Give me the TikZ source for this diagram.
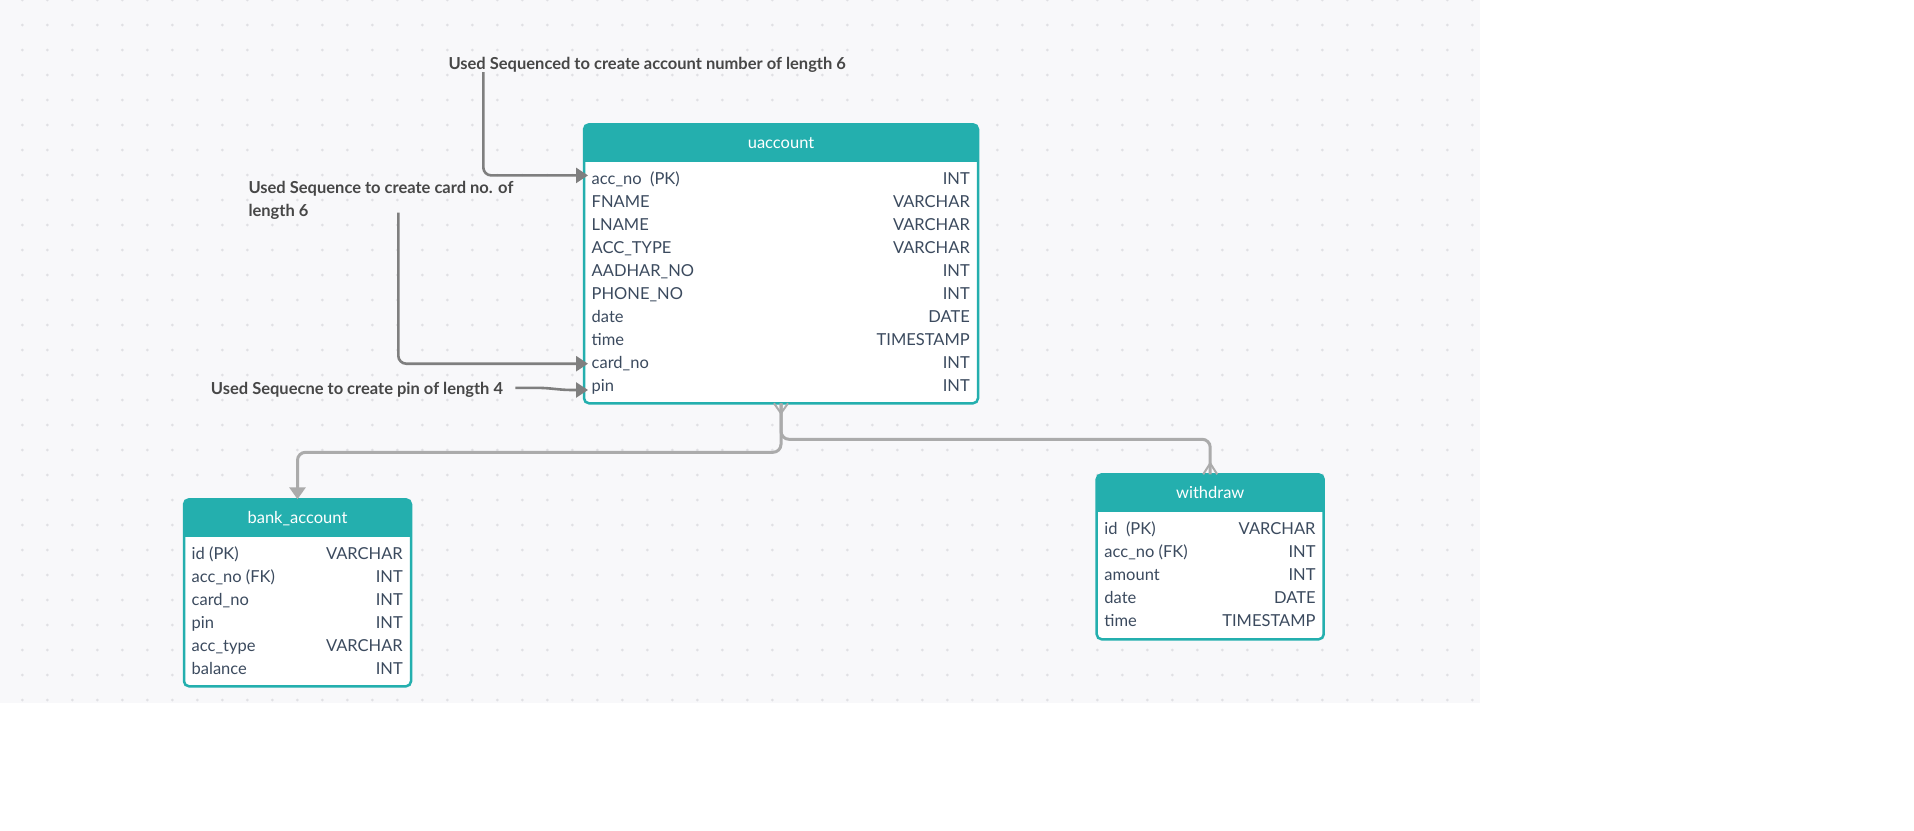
\documentclass[tikz,border=0pt]{standalone}
\usepackage{fontspec}
\setmainfont{Lato}
\usepackage{xcolor}
\usepackage{tikz}
\usetikzlibrary{arrows.meta,calc,positioning}

\definecolor{erteal}{HTML}{24AFAE}
\definecolor{fldtext}{HTML}{3B4A5E}
\definecolor{notetext}{HTML}{474747}
\definecolor{arrgray}{HTML}{7F7F7F}
\definecolor{relgray}{HTML}{ABABAB}
\definecolor{canvas}{HTML}{F8F8FA}
\definecolor{dotgray}{HTML}{E0E0E4}

\begin{document}
\begin{tikzpicture}[x=1pt,y=-1pt,font=\fontsize{16.5}{23}\selectfont]
 \tikzset{tbl/.style={draw=erteal,fill=white,line width=2.5pt,rounded corners=5pt,inner sep=0,outer sep=0,anchor=north west},
          hd/.style={text=white,anchor=base},
          fld/.style={text=fldtext,inner xsep=3.5pt,inner ysep=0},
          note/.style={text=notetext,font=\bfseries\fontsize{16.5}{23}\selectfont,inner sep=0,align=left},
          arr/.style={-{Triangle[length=12pt,width=15pt]},draw=arrgray,line width=2.6pt,rounded corners=8pt},
          rel/.style={draw=relgray,line width=3pt,rounded corners=8pt}}
 \useasboundingbox (0,0) rectangle (1914,830);
 % dotted canvas
 \fill[white] (0,0) rectangle (1914,830);
 \fill[canvas] (0,0) rectangle (1480,703);
 \foreach \x in {0,...,58}
  \foreach \y in {0,...,28}
   \fill[dotgray] (22.3+25*\x,25*\y) circle (1.5);
 % tables
 \node[tbl,minimum width=394,minimum height=279] (ua) at (584,124.3) {};
 \node[tbl,minimum width=227,minimum height=187] (bank) at (184,499.3) {};
 \node[tbl,minimum width=227,minimum height=165] (wd) at (1096.7,474.3) {};
 \foreach \tb in {ua,bank,wd}{
  \begin{scope}
   \clip[rounded corners=5pt] (\tb.north west) rectangle (\tb.south east);
   \fill[erteal] (\tb.north west) rectangle ([yshift=-37.5pt]\tb.north east);
  \end{scope}}
 \node[hd] (uah) at ($(ua.north)+(0,24)$) {uaccount};
 \node[hd] (bankh) at ($(bank.north)+(0,24)$) {bank\_account};
 \node[hd] (wdh) at ($(wd.north)+(0,24)$) {withdraw};
 \foreach \nm/\ty [count=\i] in {acc\_no\ \ (PK)/INT\hspace{7pt},FNAME/VARCHAR,LNAME/VARCHAR,ACC\_TYPE/VARCHAR,AADHAR\_NO/INT,PHONE\_NO/INT,date/DATE,time/TIMESTAMP,card\_no/INT,pin/INT}{
  \node[fld,anchor=base west] (ua\i) at ($(ua.north west)+(4,37.3+23*\i)$) {\nm};
  \node[fld,anchor=base east] (uat\i) at ($(ua.north east)+(-4.5,37.3+23*\i)$) {\ty};}
 \foreach \nm/\ty [count=\i] in {id (PK)/VARCHAR,acc\_no (FK)/INT,card\_no/INT,pin/INT,acc\_type/VARCHAR,balance/INT}{
  \node[fld,anchor=base west] (bank\i) at ($(bank.north west)+(4,37+23*\i)$) {\nm};
  \node[fld,anchor=base east] (bankt\i) at ($(bank.north east)+(-4.5,37+23*\i)$) {\ty};}
 \foreach \nm/\ty [count=\i] in {id\ \ (PK)/VARCHAR,acc\_no (FK)/INT,amount/INT,date/DATE,time/TIMESTAMP}{
  \node[fld,anchor=base west] (wd\i) at ($(wd.north west)+(4,37+23*\i)$) {\nm};
  \node[fld,anchor=base east] (wdt\i) at ($(wd.north east)+(-4.5,37+23*\i)$) {\ty};}
 % sequence notes
 \node[note,anchor=base west] (n1) at (448.3,69) {Used Sequenced to create account number of length 6};
 \node[note,anchor=north west] (n2) at (248.3,181) {Used Sequence to create card no. of\\length 6};
 \node[note,anchor=base west] (n3) at (210.7,394) {Used Sequecne to create pin of length 4};
 \draw[arr] ([xshift=35pt]n1.south west) |- ([yshift=4pt]ua1.west);
 \draw[arr] ([xshift=150pt,yshift=7pt]n2.south west) |- (ua9.west);
 \draw[arr,sharp corners] ([xshift=12pt,yshift=1.5pt]n3.east) -- ++(22,0) to[out=0,in=180] ([xshift=-16pt,yshift=-3pt]ua10.west) -- ([yshift=-3pt]ua10.west);
 % relations
 \draw[rel,-{Triangle[length=12pt,width=16pt]}] (ua.south) -- ++(0,49) -| (bank.north);
 \draw[rel] (ua.south) -- ++(0,36) -| (wd.north);
 \draw[rel,sharp corners,line width=2pt] ([xshift=-7pt]ua.south) -- ([yshift=-10pt]ua.south) -- ([xshift=7pt]ua.south);
 \draw[rel,sharp corners,line width=2pt] ([xshift=-7pt]wd.north) -- ([yshift=11pt]wd.north) -- ([xshift=7pt]wd.north);
\end{tikzpicture}
\end{document}
